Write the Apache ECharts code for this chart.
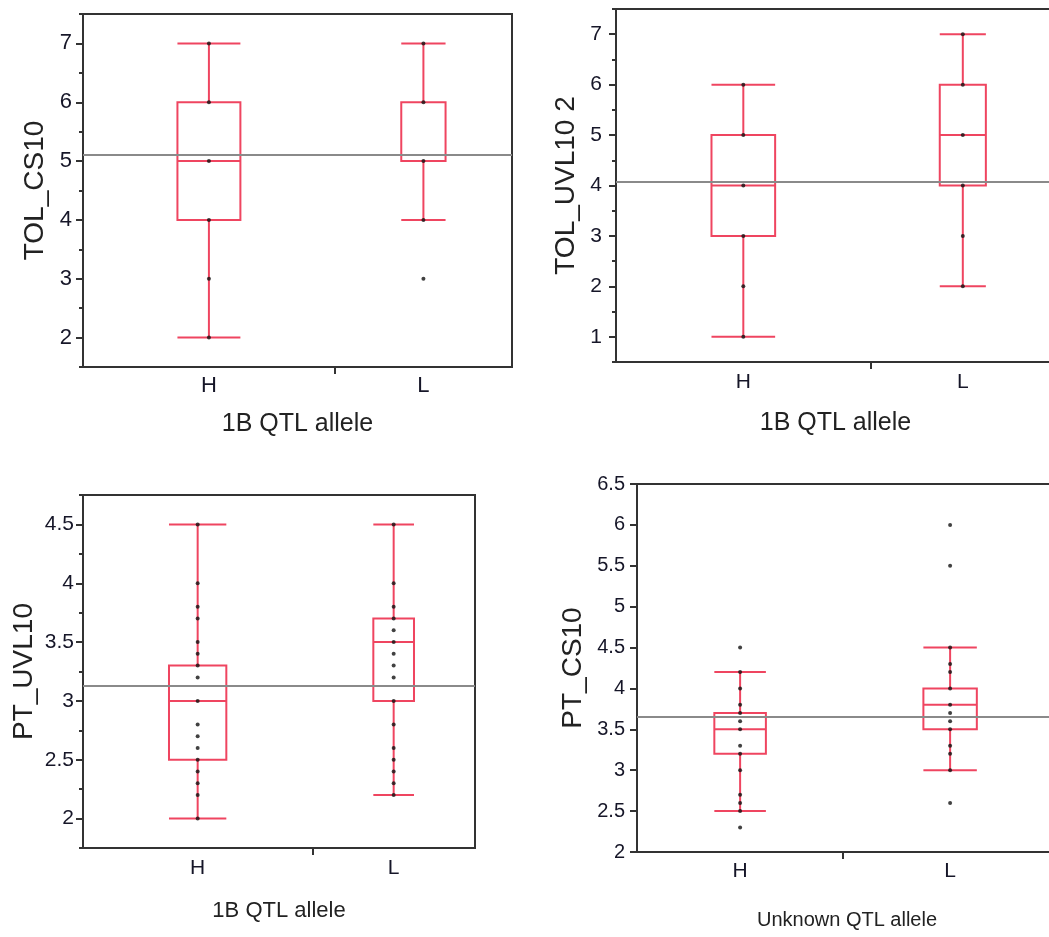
<!DOCTYPE html>
<html>
<head>
<meta charset="utf-8">
<script src="https://cdn.jsdelivr.net/npm/echarts@6/dist/echarts.min.js"></script>
<style>html,body{margin:0;background:#fff}#main{width:1049px;height:937px}</style>
</head>
<body>
<div id="main"></div>
<script>
const myChart = echarts.init(document.getElementById('main'));

const groups = ['H', 'L'];

// box stats per group: [lower whisker, Q1, median, Q3, upper whisker]
const tolCs10Box = [[2, 4, 5, 6, 7], [4, 5, 5, 6, 7]];
const tolCs10Pts = [[7, 6, 5, 4, 3, 2], [7, 6, 5, 4, 3]];
const tolCs10Mean = 5.1;
const tolCs10Ticks = [2, 3, 4, 5, 6, 7];

const tolUvlBox = [[1, 3, 4, 5, 6], [2, 4, 5, 6, 7]];
const tolUvlPts = [[6, 5, 4, 3, 2, 1], [7, 6, 5, 4, 3, 2]];
const tolUvlMean = 4.07;
const tolUvlTicks = [1, 2, 3, 4, 5, 6, 7];

const ptUvlBox = [[2, 2.5, 3, 3.3, 4.5], [2.2, 3, 3.5, 3.7, 4.5]];
const ptUvlPts = [
    [4.5, 4, 3.8, 3.7, 3.5, 3.4, 3.3, 3.2, 3, 2.8, 2.7, 2.6, 2.5, 2.4, 2.3, 2.2, 2],
    [4.5, 4, 3.8, 3.7, 3.6, 3.5, 3.4, 3.3, 3.2, 3, 2.8, 2.6, 2.5, 2.4, 2.3, 2.2]
];
const ptUvlMean = 3.13;
const ptUvlTicks = [2, 2.5, 3, 3.5, 4, 4.5];

const ptCs10Box = [[2.5, 3.2, 3.5, 3.7, 4.2], [3, 3.5, 3.8, 4, 4.5]];
const ptCs10Pts = [
    [4.5, 4.2, 4, 3.8, 3.7, 3.6, 3.5, 3.3, 3.2, 3, 2.7, 2.6, 2.5, 2.3],
    [6, 5.5, 4.5, 4.3, 4.2, 4, 3.8, 3.7, 3.6, 3.5, 3.3, 3.2, 3, 2.6]
];
const ptCs10Mean = 3.65;
const ptCs10Ticks = [2, 2.5, 3, 3.5, 4, 4.5, 5, 5.5, 6, 6.5];

// part of the x axis given to H (JMP sizes the groups by n)
const hShare = [0.587, 0.58, 0.585, 0.491];

const RED = '#ef4560';
const AXIS = '#333';
const LABEL = '#161628';
const FONT = '"Liberation Sans", Arial, sans-serif';

const panels = [
    {box: tolCs10Box, pts: tolCs10Pts, mean: tolCs10Mean, ticks: tolCs10Ticks,
     grid: {left: 83, top: 14, width: 429, height: 353}, min: 1.5, max: 7.5, minor: 0.5,
     yName: 'TOL_CS10', yGap: 34, yFont: 22, yMargin: 11, xFont: 22, xMargin: 8,
     xName: '1B QTL allele', xNameFont: 25, xGap: 45},
    {box: tolUvlBox, pts: tolUvlPts, mean: tolUvlMean, ticks: tolUvlTicks,
     grid: {left: 616, top: 9, width: 439, height: 353}, min: 0.5, max: 7.5, minor: 0.5,
     yName: 'TOL_UVL10 2', yGap: 36, yFont: 21, yMargin: 14, xFont: 21, xMargin: 10,
     xName: '1B QTL allele', xNameFont: 25, xGap: 49},
    {box: ptUvlBox, pts: ptUvlPts, mean: ptUvlMean, ticks: ptUvlTicks,
     grid: {left: 83, top: 495, width: 392, height: 353}, min: 1.75, max: 4.75, minor: 0.25,
     yName: 'PT_UVL10', yGap: 45, yFont: 21, yMargin: 9, xFont: 21, xMargin: 10,
     xName: '1B QTL allele', xNameFont: 22, xGap: 52},
    {box: ptCs10Box, pts: ptCs10Pts, mean: ptCs10Mean, ticks: ptCs10Ticks,
     grid: {left: 637, top: 484, width: 420, height: 368}, min: 2, max: 6.5, minor: null,
     yName: 'PT_CS10', yGap: 50, yFont: 20, yMargin: 12, xFont: 21, xMargin: 9,
     xName: 'Unknown QTL allele', xNameFont: 20, xGap: 58}
];

function renderBox(params, api) {
    const x = api.value(0), hw = api.value(6);
    const L = api.coord([x - hw, 0])[0];
    const R = api.coord([x + hw, 0])[0];
    const C = api.coord([x, 0])[0];
    const y = i => api.coord([x, api.value(i)])[1];
    const st = {stroke: RED, lineWidth: 2, fill: null};
    return {
        type: 'group',
        children: [
            {type: 'line', shape: {x1: L, y1: y(5), x2: R, y2: y(5)}, style: st},
            {type: 'line', shape: {x1: C, y1: y(5), x2: C, y2: y(4)}, style: st},
            {type: 'rect', shape: {x: L, y: y(4), width: R - L, height: y(2) - y(4)}, style: st},
            {type: 'line', shape: {x1: L, y1: y(3), x2: R, y2: y(3)}, style: st},
            {type: 'line', shape: {x1: C, y1: y(2), x2: C, y2: y(1)}, style: st},
            {type: 'line', shape: {x1: L, y1: y(1), x2: R, y2: y(1)}, style: st}
        ]
    };
}

const grid = [], xAxis = [], yAxis = [], series = [];

panels.forEach((p, i) => {
    const s = hShare[i];
    const centers = [s / 2, s + (1 - s) / 2];
    const halfW = [s * 0.125, (1 - s) * 0.125];

    grid.push(Object.assign({show: true, borderColor: AXIS, borderWidth: 2, outerBoundsMode: 'none'}, p.grid));

    xAxis.push({
        type: 'value', gridIndex: i, min: 0, max: 1,
        splitLine: {show: false},
        axisLine: {onZero: false, lineStyle: {color: AXIS, width: 2}},
        axisTick: {customValues: [s], length: 7, lineStyle: {color: AXIS, width: 2}},
        axisLabel: {
            customValues: centers,
            formatter: v => (v < s ? groups[0] : groups[1]),
            fontSize: p.xFont, fontFamily: FONT, color: LABEL, margin: p.xMargin
        },
        name: p.xName, nameLocation: 'middle', nameGap: p.xGap,
        nameTextStyle: {fontSize: p.xNameFont, fontFamily: FONT, color: '#222'}
    });

    const yIndex = yAxis.length;
    yAxis.push({
        type: 'value', gridIndex: i, min: p.min, max: p.max, position: 'left',
        splitLine: {show: false},
        axisLine: {show: true, onZero: false, lineStyle: {color: AXIS, width: 2}},
        axisTick: {customValues: p.ticks, length: 7, lineStyle: {color: AXIS, width: 2}},
        axisLabel: {customValues: p.ticks, fontSize: p.yFont, fontFamily: FONT, color: LABEL, margin: p.yMargin},
        name: p.yName, nameLocation: 'middle', nameRotate: 90, nameGap: p.yGap,
        nameTextStyle: {fontSize: 28, fontFamily: FONT, color: '#222'}
    });
    if (p.minor) {
        yAxis.push({
            type: 'value', gridIndex: i, min: p.min, max: p.max, interval: p.minor, position: 'left',
            splitLine: {show: false},
            axisLine: {show: false},
            axisTick: {length: 4, lineStyle: {color: AXIS, width: 2}},
            axisLabel: {show: false}
        });
    }

    series.push({
        type: 'custom', xAxisIndex: i, yAxisIndex: yIndex,
        renderItem: renderBox,
        encode: {x: 0, y: [1, 2, 3, 4, 5]},
        data: p.box.map((b, g) => [centers[g]].concat(b, [halfW[g]])),
        z: 3,
        markLine: {
            silent: true, symbol: 'none', label: {show: false},
            lineStyle: {color: '#8a8a8a', width: 2, type: 'solid'},
            data: [{yAxis: p.mean}]
        }
    });

    const dots = [];
    p.pts.forEach((vals, g) => vals.forEach(v => dots.push([centers[g], v])));
    series.push({
        type: 'scatter', xAxisIndex: i, yAxisIndex: yIndex,
        symbol: 'circle', symbolSize: 4,
        itemStyle: {color: '#111'},
        data: dots, z: 4
    });
});

option = {
    animation: false,
    backgroundColor: '#fff',
    grid: grid,
    xAxis: xAxis,
    yAxis: yAxis,
    series: series
};

myChart.setOption(option);
</script>
</body>
</html>
